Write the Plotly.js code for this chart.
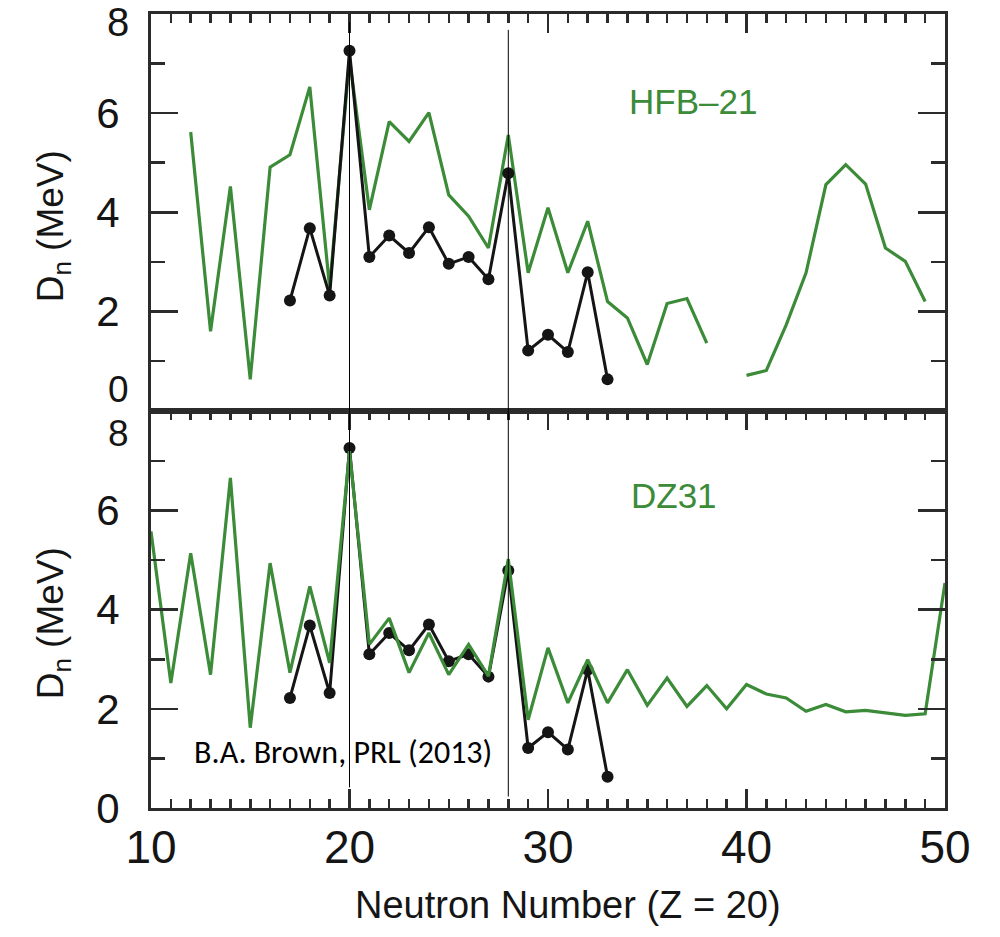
<!DOCTYPE html>
<html>
<head>
<meta charset="utf-8">
<script src="https://cdn.plot.ly/plotly-3.0.1.min.js"></script>
<style>html,body{margin:0;padding:0;background:#fff;}#chart{width:1000px;height:937px;}</style>
</head>
<body>
<div id="chart"></div>
<script>
// ---- data ----
var hfbN = [12,13,14,15,16,17,18,19,20,21,22,23,24,25,26,27,28,29,30,31,32,33,34,35,36,37,38,39,40,41,42,43,44,45,46,47,48,49];
var hfbDn = [5.62,1.60,4.52,0.63,4.91,5.16,6.53,2.47,7.10,4.05,5.83,5.43,6.01,4.35,3.92,3.28,5.56,2.78,4.09,2.78,3.82,2.20,1.87,0.93,2.16,2.26,1.36,null,0.71,0.81,1.73,2.78,4.56,4.96,4.57,3.28,3.01,2.20];
var dzN = [10,11,12,13,14,15,16,17,18,19,20,21,22,23,24,25,26,27,28,29,30,31,32,33,34,35,36,37,38,39,40,41,42,43,44,45,46,47,48,49,50];
var dzDn = [5.58,2.52,5.14,2.69,6.66,1.62,4.94,2.73,4.47,2.93,7.20,3.30,3.83,2.73,3.53,2.69,3.30,2.66,5.02,1.78,3.23,2.12,2.99,2.12,2.79,2.07,2.62,2.05,2.47,2.00,2.49,2.30,2.22,1.95,2.09,1.94,1.97,1.92,1.87,1.90,4.54];
var expN = [17,18,19,20,21,22,23,24,25,26,27,28,29,30,31,32,33];
var expDn = [2.22,3.68,2.32,7.26,3.10,3.53,3.18,3.70,2.96,3.10,2.65,4.79,1.21,1.53,1.18,2.79,0.63];
var magicN = [20, 28];
var xTickVals = [10,20,30,40,50];
var topYLabels = [2,4,6];
var bottomYLabels = [0,2,4,6];

var GREEN = '#3b8b38';
var INK = '#151515';
var AXC = '#2b2b2b';
var FONT = 'Liberation Sans, Arial, Helvetica, sans-serif';
var YTITLE = 'D<sub>n</sub> (MeV)';

var traces = [
  {x: hfbN, y: hfbDn, xaxis: 'x2', yaxis: 'y2', mode: 'lines', connectgaps: false,
   line: {color: GREEN, width: 3.2}, showlegend: false},
  {x: expN, y: expDn, xaxis: 'x2', yaxis: 'y2', mode: 'lines+markers',
   line: {color: INK, width: 3}, marker: {color: INK, size: 12}, showlegend: false},
  {x: expN, y: expDn, xaxis: 'x', yaxis: 'y', mode: 'lines+markers',
   line: {color: INK, width: 3}, marker: {color: INK, size: 12}, showlegend: false},
  {x: dzN, y: dzDn, xaxis: 'x', yaxis: 'y', mode: 'lines',
   line: {color: GREEN, width: 3.2}, showlegend: false}
];

function yAx(domain, labels, anchor) {
  return {
    domain: domain, range: [0, 8], anchor: anchor,
    tickmode: 'array', tickvals: labels,
    ticks: 'inside', ticklen: 27, tickwidth: 2.5, tickcolor: AXC,
    minor: {tickmode: 'array', tickvals: [1,3,5,7], ticks: 'inside', ticklen: 14, tickwidth: 2.5, tickcolor: AXC, showgrid: false},
    showline: true, linewidth: 3, linecolor: AXC, mirror: 'ticks',
    showgrid: false, zeroline: false,
    tickfont: {family: FONT, size: 42, color: INK},
    ticklabelstandoff: 20, ticklabeloverflow: 'allow'
  };
}

var xMinor = {tick0: 10, dtick: 1, ticks: 'inside', ticklen: 9, tickwidth: 2.5, tickcolor: AXC, showgrid: false};

function sideLabel(txt, yref, yv, ys, fs) {
  return {text: txt, xref: 'paper', yref: yref, x: 0, y: yv, xanchor: 'right', yanchor: 'middle',
          xshift: -21, yshift: ys, borderpad: 0, showarrow: false, font: {family: FONT, size: fs, color: INK}};
}

var layout = {
  width: 1000, height: 937,
  margin: {l: 151, r: 55, t: 14, b: 129},
  paper_bgcolor: '#fff', plot_bgcolor: '#fff',
  showlegend: false,
  xaxis: {
    domain: [0, 1], range: [10, 50], anchor: 'y',
    tickmode: 'array', tickvals: xTickVals,
    ticks: 'inside', ticklen: 19, tickwidth: 2.5, tickcolor: AXC,
    minor: xMinor,
    showline: true, linewidth: 3, linecolor: AXC, mirror: 'ticks',
    showgrid: false, zeroline: false,
    tickfont: {family: FONT, size: 46, color: INK},
    ticklabelstandoff: -3
  },
  xaxis2: {
    domain: [0, 1], range: [10, 50], anchor: 'y2', side: 'top',
    tickmode: 'array', tickvals: xTickVals,
    ticks: 'inside', ticklen: 19, tickwidth: 2.5, tickcolor: AXC,
    minor: xMinor,
    showline: true, linewidth: 3, linecolor: AXC, mirror: true,
    showgrid: false, zeroline: false, showticklabels: false
  },
  yaxis: yAx([0, 0.4995], bottomYLabels, 'x'),
  yaxis2: yAx([0.5005, 1], topYLabels, 'x2'),
  shapes: [
    {type: 'line', xref: 'x', yref: 'paper', x0: magicN[0], x1: magicN[0], y0: 0.026, y1: 0.990, line: {color: '#000', width: 1}, layer: 'above'},
    {type: 'line', xref: 'x', yref: 'paper', x0: magicN[1], x1: magicN[1], y0: 0.0145, y1: 0.980, line: {color: '#000', width: 1}, layer: 'above'}
  ],
  annotations: [
    {text: 'HFB\u201321', xref: 'paper', yref: 'paper', x: 0.682, y: 0.8898, xanchor: 'center', yanchor: 'middle', showarrow: false,
     font: {family: FONT, size: 35, color: GREEN}},
    {text: 'DZ31', xref: 'paper', yref: 'paper', x: 0.6587, y: 0.3942, xanchor: 'center', yanchor: 'middle', showarrow: false,
     font: {family: FONT, size: 35, color: GREEN}},
    {text: 'B.A. Brown, PRL (2013)', xref: 'paper', yref: 'paper', x: 0.2424, y: 0.0705, xanchor: 'center', yanchor: 'middle', showarrow: false,
     font: {family: 'Carlito, Lato, Open Sans, sans-serif', size: 32, color: '#000'}},
    sideLabel('8', 'y2', 8, -8, 40),
    sideLabel('0', 'y2', 0, 21, 37),
    sideLabel('8', 'y', 8, -22, 37),
    {text: YTITLE, textangle: -90, xref: 'paper', yref: 'paper', x: -0.123, y: 0.733, xanchor: 'center', yanchor: 'middle', showarrow: false,
     font: {family: FONT, size: 37, color: INK}},
    {text: YTITLE, textangle: -90, xref: 'paper', yref: 'paper', x: -0.123, y: 0.233, xanchor: 'center', yanchor: 'middle', showarrow: false,
     font: {family: FONT, size: 37, color: INK}},
    {text: 'Neutron Number (Z = 20)', xref: 'paper', yref: 'paper', x: 0.5258, y: -0.1222, xanchor: 'center', yanchor: 'middle', showarrow: false,
     font: {family: FONT, size: 38, color: INK}}
  ]
};

Plotly.newPlot('chart', traces, layout, {displayModeBar: false, staticPlot: true});
</script>
</body>
</html>
